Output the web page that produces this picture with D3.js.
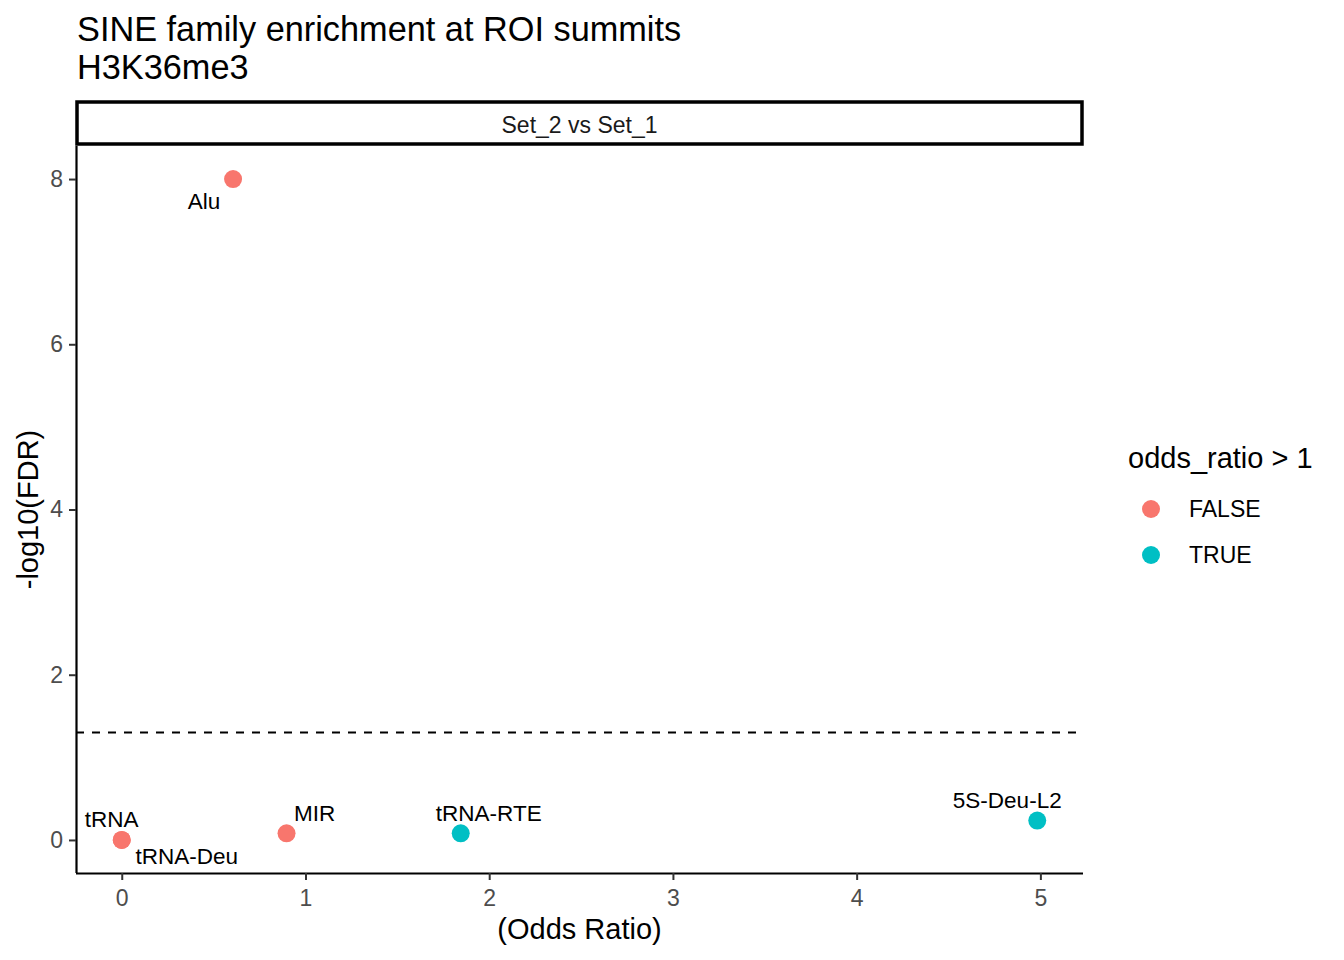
<!DOCTYPE html>
<html><head><meta charset="utf-8">
<script src="https://cdn.jsdelivr.net/npm/d3@7"></script>
<style>body{margin:0;background:#fff;} text{font-family:"Liberation Sans",Arial,sans-serif;}</style>
</head><body><svg id="c" width="1344" height="960"></svg>
<script>
const families = ["Alu","tRNA","tRNA-Deu","MIR","tRNA-RTE","5S-Deu-L2"];
const oddsRatio = [0.606, 0.0, 0.0, 0.897, 1.845, 4.983];
const negLogFDR = [8.0, 0.0, 0.0, 0.081, 0.081, 0.234];
const labelDx = [-29, -10, 65, 28, 28, -30];
const labelDy = [22, -20, 17, -20, -20, -20];
const xTicks = [0,1,2,3,4,5];
const yTicks = [0,2,4,6,8];
const legendLabels = ["FALSE","TRUE"];
const threshold = -Math.log10(0.05);

const svg = d3.select("#c");
const L = 76, R = 1083, T = 146, B = 873;
const x = d3.scaleLinear().domain([-0.249, 5.232]).range([L, R]);
const y = d3.scaleLinear().domain([-0.4, 8.4]).range([B, T]);
const color = d3.scaleOrdinal().domain(legendLabels).range(["#F8766D","#00BFC4"]);

// title
svg.append("text").attr("x",77).attr("y",41).attr("font-size",34.3).text("SINE family enrichment at ROI summits");
svg.append("text").attr("x",77).attr("y",79).attr("font-size",34.3).text("H3K36me3");

// strip
svg.append("rect").attr("x",L+1).attr("y",102).attr("width",R-L-2).attr("height",T-104)
  .attr("fill","#fff").attr("stroke","#000").attr("stroke-width",3.5);
svg.append("text").attr("x",(L+R)/2).attr("y",125).attr("text-anchor","middle").attr("dominant-baseline","central")
  .attr("font-size",23).attr("fill","#1A1A1A").text("Set_2 vs Set_1");

// threshold line
svg.append("line").attr("x1",L).attr("x2",R).attr("y1",y(threshold)).attr("y2",y(threshold))
  .attr("stroke","#000").attr("stroke-width",2).attr("stroke-dasharray","8,8");

// axes
const gx = svg.append("g").attr("transform",`translate(0,${B})`)
  .call(d3.axisBottom(x).tickValues(xTicks).tickSize(7).tickPadding(10).tickFormat(d3.format("d")));
const gy = svg.append("g").attr("transform",`translate(${L},0)`)
  .call(d3.axisLeft(y).tickValues(yTicks).tickSize(7).tickPadding(6).tickFormat(d3.format("d")));
[gx,gy].forEach(g=>{
  g.select(".domain").attr("stroke","#000").attr("stroke-width",2.2);
  g.selectAll(".tick line").attr("stroke","#333").attr("stroke-width",2);
  g.selectAll(".tick text").attr("fill","#4D4D4D").attr("font-size",23).attr("font-family","Liberation Sans, Arial, sans-serif");
});
gx.select(".domain").attr("d",`M${L},0.5H${R}`);
gy.select(".domain").attr("d",`M0.5,${B}V${T}`);

// axis titles
svg.append("text").attr("x",(L+R)/2).attr("y",939).attr("text-anchor","middle").attr("font-size",29).text("(Odds Ratio)");
svg.append("text").attr("transform",`translate(38,${(T+B)/2}) rotate(-90)`).attr("text-anchor","middle").attr("font-size",29).text("-log10(FDR)");

// points
const data = families.map((f,i)=>({f, or:oddsRatio[i], v:negLogFDR[i], dx:labelDx[i], dy:labelDy[i]}));
svg.append("g").selectAll("circle").data(data).join("circle")
  .attr("cx",d=>x(d.or)).attr("cy",d=>y(d.v)).attr("r",9)
  .attr("fill",d=>color(String(d.or>1).toUpperCase()));
svg.append("g").selectAll("text").data(data).join("text")
  .attr("x",d=>x(d.or)+d.dx).attr("y",d=>y(d.v)+d.dy)
  .attr("text-anchor","middle").attr("dominant-baseline","central").attr("font-size",22.5).attr("fill","#000")
  .text(d=>d.f);

// legend
svg.append("text").attr("x",1128).attr("y",468).attr("font-size",29).text("odds_ratio > 1");
const lg = svg.append("g").selectAll("g").data(legendLabels).join("g")
  .attr("transform",(d,i)=>`translate(1151,${509+i*46})`);
lg.append("circle").attr("r",9).attr("fill",d=>color(d));
lg.append("text").attr("x",38).attr("dominant-baseline","central").attr("font-size",23).text(d=>d);
</script></body></html>
